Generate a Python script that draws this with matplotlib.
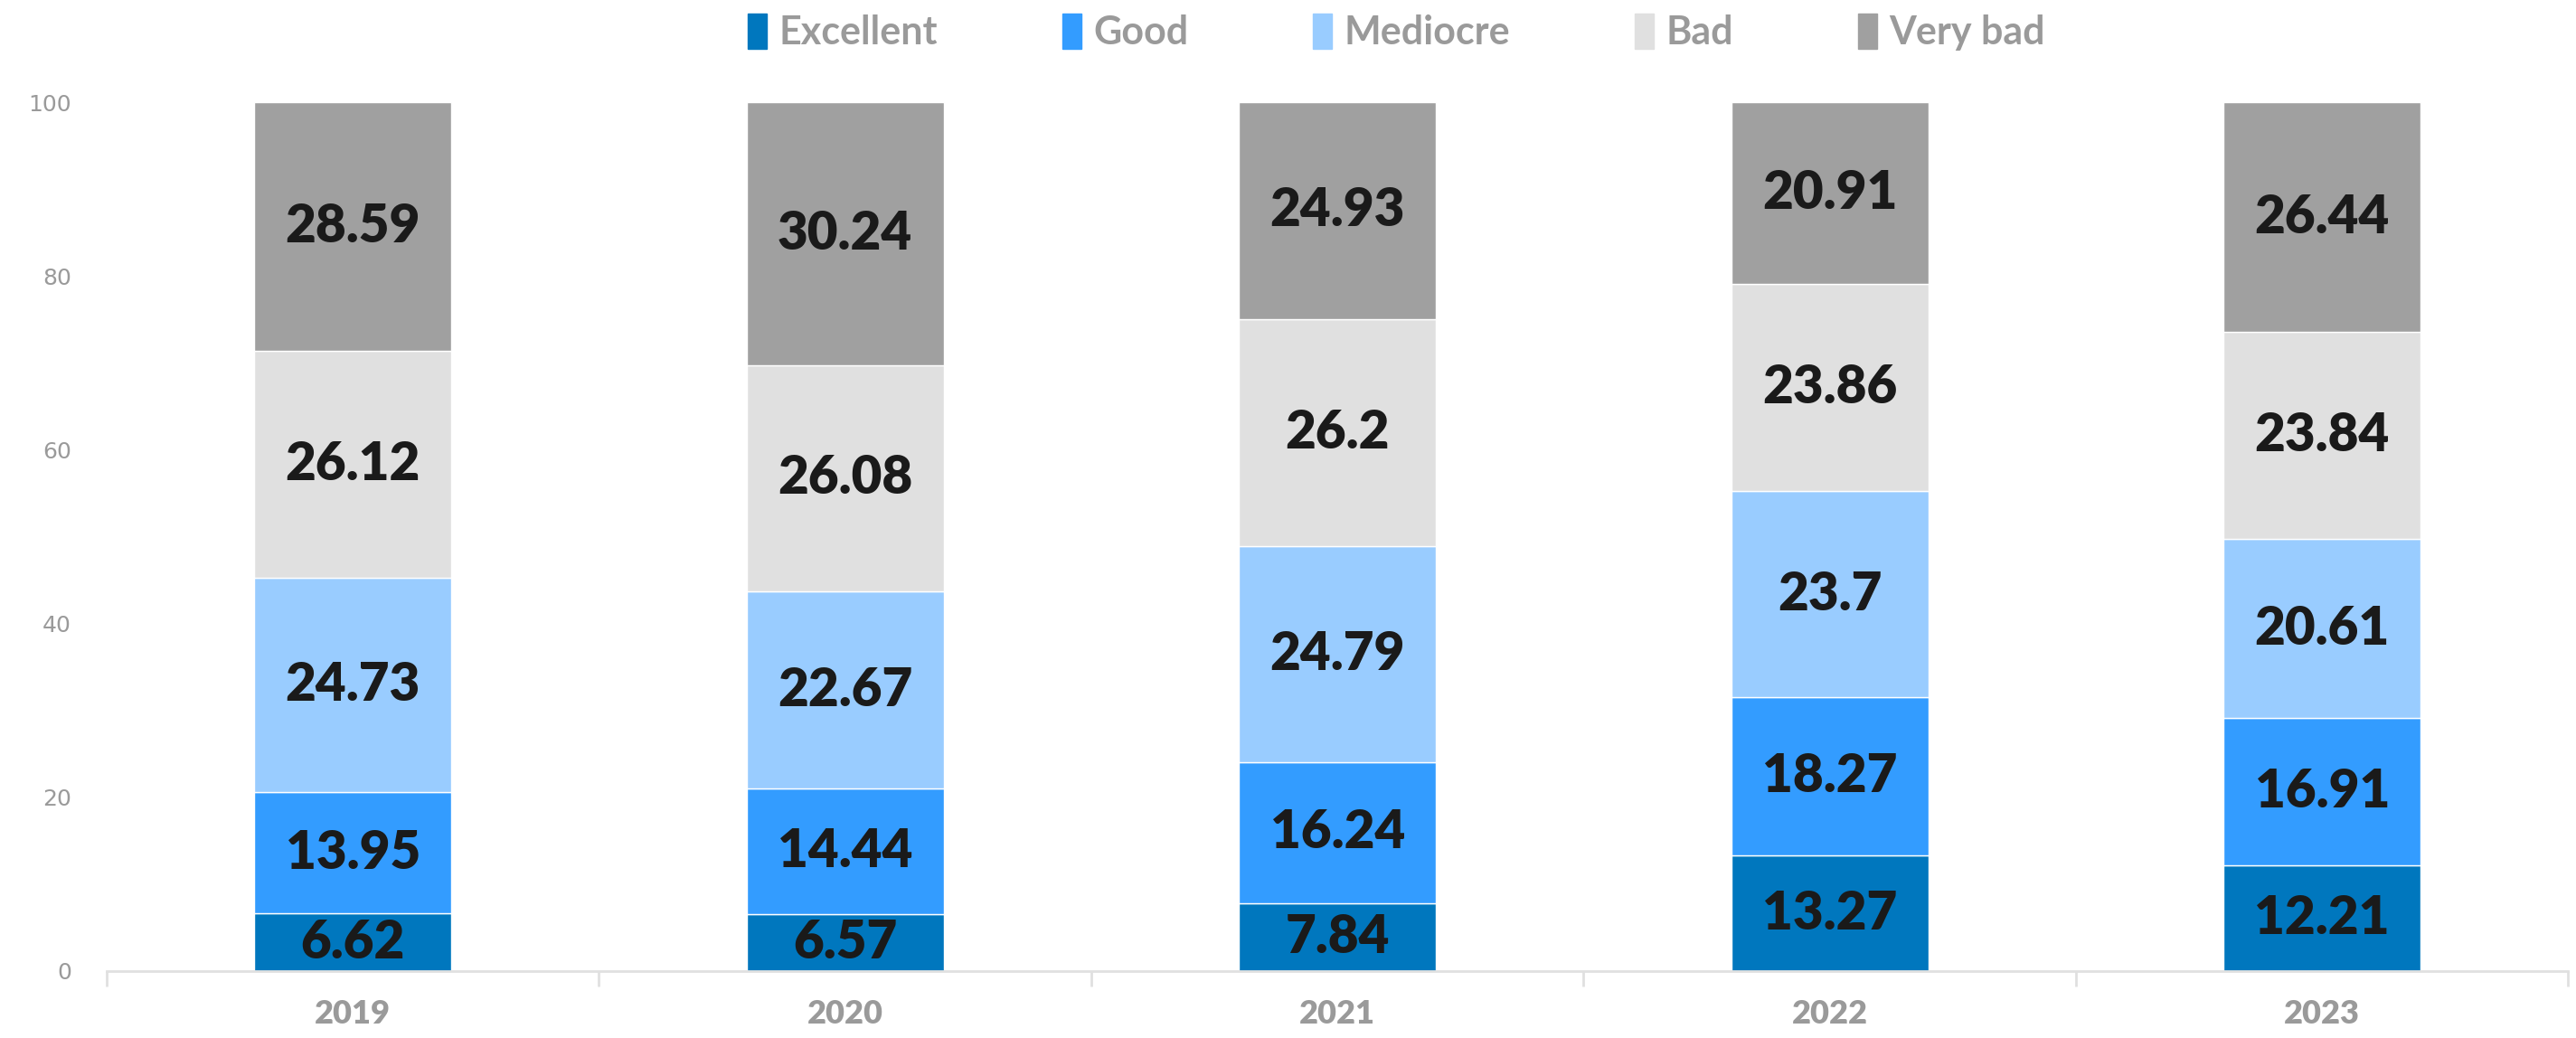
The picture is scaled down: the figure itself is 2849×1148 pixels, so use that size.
import numpy as np
import matplotlib
matplotlib.use('Agg')
import matplotlib.pyplot as plt
from matplotlib.patches import Patch

years = ['2019', '2020', '2021', '2022', '2023']
series = ['Excellent', 'Good', 'Mediocre', 'Bad', 'Very bad']
excellent = [6.62, 6.57, 7.84, 13.27, 12.21]
good = [13.95, 14.44, 16.24, 18.27, 16.91]
mediocre = [24.73, 22.67, 24.79, 23.7, 20.61]
bad = [26.12, 26.08, 26.2, 23.86, 23.84]
very_bad = [28.59, 30.24, 24.93, 20.91, 26.44]

colors = ['#0077BE', '#339CFF', '#99CCFF', '#E0E0E0', '#A0A0A0']
values = [excellent, good, mediocre, bad, very_bad]

fig = plt.figure(figsize=(28.49, 11.48), dpi=100)
ax = fig.add_axes([0.0414, 0.0645, 0.9556, 0.837])

x = np.arange(len(years))
bottom = np.zeros(len(years))
for name, vals, c in zip(series, values, colors):
    vals = np.array(vals)
    ax.bar(x, vals, 0.4, bottom=bottom, color=c, edgecolor='white', linewidth=1, label=name)
    for xi, b, v in zip(x, bottom, vals):
        ax.text(xi, b + v / 2, '{:g}'.format(v), ha='center', va='center',
                fontsize=42, fontweight='heavy', color='#1a1a1a', family='Lato')
    bottom += vals

ax.set_xlim(-0.5, len(years) - 0.5)
ax.set_ylim(0, 100)
ax.set_yticks([0, 20, 40, 60, 80, 100])
ax.tick_params(axis='y', length=0, labelsize=18, labelcolor='#9a9a9a', pad=28)
ax.set_xticks(x)
ax.set_xticklabels(years, fontsize=26, fontweight='heavy', color='#9a9a9a', family='Lato')
ax.tick_params(axis='x', length=0, pad=22)
ax.set_xticks(np.arange(-0.5, len(years)), minor=True)
ax.tick_params(axis='x', which='minor', length=12, color='#e0e0e0', width=2)
for s in ['left', 'right', 'top']:
    ax.spines[s].set_visible(False)
ax.spines['bottom'].set_color('#e0e0e0')
ax.spines['bottom'].set_linewidth(2)

handles = [Patch(color=c) for c in colors]
leg = fig.legend(handles, series, loc='center', bbox_to_anchor=(0.542, 0.969), ncol=5,
                 frameon=False, handlelength=0.5, handleheight=1.0, handletextpad=0.3,
                 columnspacing=3.2, prop={'family': 'Lato', 'weight': 'bold', 'size': 31})
for t in leg.get_texts():
    t.set_color('#9a9a9a')

fig.savefig('out.png', dpi=100)
